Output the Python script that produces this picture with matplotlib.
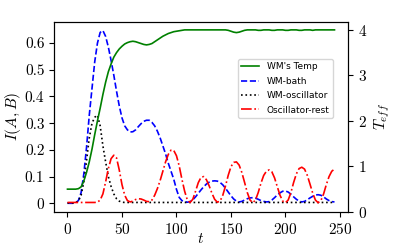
import numpy as np
import matplotlib
matplotlib.use('Agg')
import matplotlib.pyplot as plt
from matplotlib.ticker import MultipleLocator, FuncFormatter

plt.rcParams['font.family'] = 'serif'
plt.rcParams['font.serif'] = ['cmr10']
plt.rcParams['mathtext.fontset'] = 'cm'
plt.rcParams['axes.formatter.use_mathtext'] = True

# time grid (step 2.5)
t = np.arange(0, 245.1, 2.5)

wm_bath = [0, 0, 0, 0.002, 0.01, 0.04, 0.11, 0.21, 0.33, 0.43,
           0.53, 0.6, 0.64, 0.647, 0.625, 0.585, 0.535, 0.48, 0.42, 0.365,
           0.32, 0.29, 0.275, 0.267, 0.268, 0.275, 0.287, 0.298, 0.307, 0.311,
           0.311, 0.303, 0.29, 0.27, 0.245, 0.215, 0.185, 0.15, 0.12, 0.09,
           0.052, 0.022, 0.01, 0.006, 0.004, 0.006, 0.013, 0.024, 0.037, 0.05,
           0.062, 0.072, 0.079, 0.083, 0.084, 0.083, 0.078, 0.069, 0.056, 0.042,
           0.028, 0.016, 0.008, 0.005, 0.007, 0.012, 0.017, 0.02, 0.021, 0.019,
           0.015, 0.01, 0.007, 0.005, 0.006, 0.012, 0.021, 0.031, 0.039, 0.045,
           0.046, 0.042, 0.034, 0.024, 0.015, 0.008, 0.005, 0.007, 0.013, 0.02,
           0.026, 0.031, 0.032, 0.03, 0.024, 0.016, 0.01, 0.006, 0.005]

wm_osc = [0.001, 0.001, 0.001, 0.002, 0.008, 0.03, 0.08, 0.16, 0.245, 0.3,
          0.322, 0.33, 0.29, 0.215, 0.155, 0.1, 0.063, 0.035, 0.017, 0.008,
          0.004] + [0.003] * 78

osc_rest = [0.003, 0.003, 0.003, 0.003, 0.003, 0.003, 0.003, 0.003, 0.003, 0.003,
            0.003, 0.004, 0.012, 0.035, 0.08, 0.13, 0.167, 0.18, 0.17, 0.125,
            0.07, 0.03, 0.01, 0.005, 0.008, 0.014, 0.017, 0.016, 0.012, 0.007,
            0.006, 0.012, 0.03, 0.055, 0.085, 0.12, 0.155, 0.183, 0.199, 0.198,
            0.178, 0.14, 0.09, 0.045, 0.012, 0.003, 0.015, 0.045, 0.077, 0.097,
            0.1, 0.088, 0.065, 0.038, 0.015, 0.004, 0.008, 0.03, 0.065, 0.105,
            0.137, 0.153, 0.155, 0.143, 0.115, 0.078, 0.04, 0.012, 0.002, 0.012,
            0.04, 0.075, 0.104, 0.12, 0.125, 0.118, 0.095, 0.062, 0.03, 0.008,
            0.002, 0.012, 0.04, 0.078, 0.11, 0.13, 0.135, 0.128, 0.105, 0.072,
            0.038, 0.012, 0.002, 0.01, 0.035, 0.07, 0.1, 0.12, 0.128]

wm_temp = [0.5, 0.5, 0.5, 0.5, 0.51, 0.55, 0.68, 0.87, 1.1, 1.38,
           1.7, 2.0, 2.28, 2.58, 2.85, 3.08, 3.25, 3.4, 3.5, 3.58,
           3.64, 3.69, 3.72, 3.74, 3.75, 3.74, 3.72, 3.7, 3.68, 3.67,
           3.68, 3.7, 3.74, 3.78, 3.82, 3.86, 3.89, 3.92, 3.94, 3.96,
           3.97, 3.98, 3.99, 4.0, 4.0, 4.0, 4.0, 4.0, 4.0, 4.0,
           4.0, 4.0, 4.0, 4.0, 4.0, 4.0, 4.0, 4.0, 4.0, 3.99,
           3.97, 3.95, 3.94, 3.95, 3.97, 3.99, 4.0, 4.0, 4.0, 4.0,
           3.99, 3.99, 4.0, 4.0, 4.0, 3.99, 3.99, 4.0, 4.0, 4.0,
           3.99, 3.99, 4.0, 4.0, 4.0, 3.99, 3.99, 4.0, 4.0, 4.0,
           3.99, 4.0, 4.0, 4.0, 4.0, 4.0, 4.0, 4.0, 4.0]

fig = plt.figure(figsize=(3.98, 2.49), dpi=100)
ax = fig.add_axes([0.136, 0.149, 0.738, 0.763])
ax2 = ax.twinx()

l1, = ax2.plot(t, wm_temp, color='green', lw=1.2, label="WM's Temp")
l2, = ax.plot(t, wm_bath, color='blue', ls='--', lw=1.2, label='WM-bath')
l3, = ax.plot(t, wm_osc, color='black', ls=':', lw=1.2, label='WM-oscillator')
l4, = ax.plot(t, osc_rest, color='red', ls='-.', lw=1.2, label='Oscillator-rest')

ax2.set_ylim(bottom=0)
ax.yaxis.set_major_locator(MultipleLocator(0.1))
ax.yaxis.set_major_formatter(FuncFormatter(lambda v, p: '%g' % round(v, 2)))
ax.set_xlabel(r'$t$', fontsize=11, labelpad=-3)
ax.set_ylabel(r'$I(A,B)$', fontsize=11, labelpad=1)
ax2.set_ylabel(r'$T_{eff}$', fontsize=11)
ax.tick_params(labelsize=11)
ax2.tick_params(labelsize=11)

ax.legend(handles=[l1, l2, l3, l4], loc='upper left', bbox_to_anchor=(0.61, 0.83),
          prop={'family': 'DejaVu Sans', 'size': 6.5}, labelspacing=0.6)

fig.savefig('out.png', dpi=100)
